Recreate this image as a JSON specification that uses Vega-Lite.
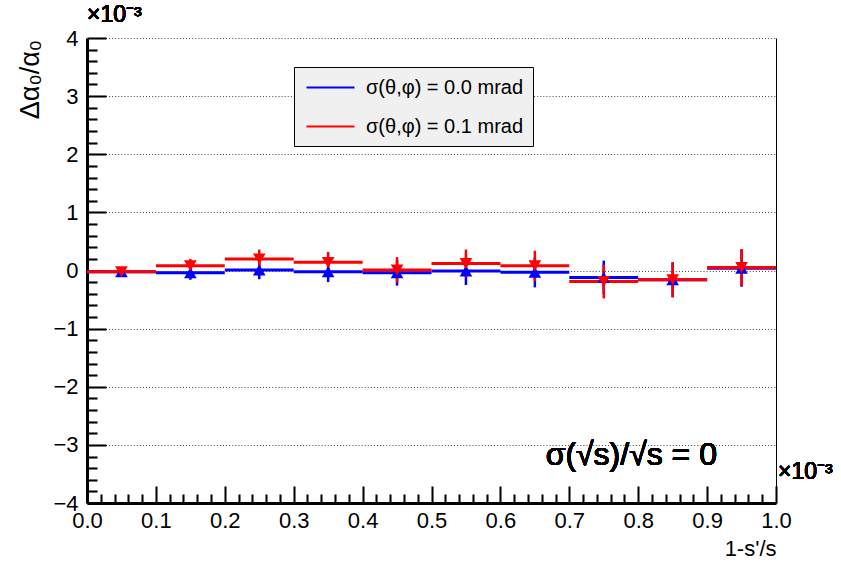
{
  "$schema": "https://vega.github.io/schema/vega-lite/v6.json",
  "width": 689,
  "height": 465,
  "autosize": "none",
  "padding": {"left": 87, "top": 38, "right": 65, "bottom": 63},
  "background": "white",
  "config": {
    "view": {"stroke": null},
    "font": "Liberation Sans",
    "text": {"fontWeight": "normal"},
    "axis": {"labelFont": "Liberation Sans", "titleFont": "Liberation Sans", "labelColor": "black", "titleColor": "black", "titleFontWeight": "normal", "labelFontWeight": "normal"}
  },
  "data": {
    "values": [
      {"series": "σ(θ,φ) = 0.0 mrad", "lo": 0.0, "hi": 0.1, "center": 0.05, "value": -0.02, "err": 0.05},
      {"series": "σ(θ,φ) = 0.0 mrad", "lo": 0.1, "hi": 0.2, "center": 0.15, "value": -0.04, "err": 0.12},
      {"series": "σ(θ,φ) = 0.0 mrad", "lo": 0.2, "hi": 0.3, "center": 0.25, "value": 0.01, "err": 0.16},
      {"series": "σ(θ,φ) = 0.0 mrad", "lo": 0.3, "hi": 0.4, "center": 0.35, "value": -0.02, "err": 0.18},
      {"series": "σ(θ,φ) = 0.0 mrad", "lo": 0.4, "hi": 0.5, "center": 0.45, "value": -0.04, "err": 0.22},
      {"series": "σ(θ,φ) = 0.0 mrad", "lo": 0.5, "hi": 0.6, "center": 0.55, "value": -0.01, "err": 0.24},
      {"series": "σ(θ,φ) = 0.0 mrad", "lo": 0.6, "hi": 0.7, "center": 0.65, "value": -0.03, "err": 0.26},
      {"series": "σ(θ,φ) = 0.0 mrad", "lo": 0.7, "hi": 0.8, "center": 0.75, "value": -0.12, "err": 0.29},
      {"series": "σ(θ,φ) = 0.0 mrad", "lo": 0.8, "hi": 0.9, "center": 0.85, "value": -0.16, "err": 0.30},
      {"series": "σ(θ,φ) = 0.0 mrad", "lo": 0.9, "hi": 1.0, "center": 0.95, "value": 0.04, "err": 0.32},
      {"series": "σ(θ,φ) = 0.1 mrad", "lo": 0.0, "hi": 0.1, "center": 0.05, "value": -0.02, "err": 0.05},
      {"series": "σ(θ,φ) = 0.1 mrad", "lo": 0.1, "hi": 0.2, "center": 0.15, "value": 0.08, "err": 0.12},
      {"series": "σ(θ,φ) = 0.1 mrad", "lo": 0.2, "hi": 0.3, "center": 0.25, "value": 0.20, "err": 0.16},
      {"series": "σ(θ,φ) = 0.1 mrad", "lo": 0.3, "hi": 0.4, "center": 0.35, "value": 0.14, "err": 0.18},
      {"series": "σ(θ,φ) = 0.1 mrad", "lo": 0.4, "hi": 0.5, "center": 0.45, "value": 0.01, "err": 0.22},
      {"series": "σ(θ,φ) = 0.1 mrad", "lo": 0.5, "hi": 0.6, "center": 0.55, "value": 0.12, "err": 0.24},
      {"series": "σ(θ,φ) = 0.1 mrad", "lo": 0.6, "hi": 0.7, "center": 0.65, "value": 0.08, "err": 0.26},
      {"series": "σ(θ,φ) = 0.1 mrad", "lo": 0.7, "hi": 0.8, "center": 0.75, "value": -0.19, "err": 0.29},
      {"series": "σ(θ,φ) = 0.1 mrad", "lo": 0.8, "hi": 0.9, "center": 0.85, "value": -0.16, "err": 0.30},
      {"series": "σ(θ,φ) = 0.1 mrad", "lo": 0.9, "hi": 1.0, "center": 0.95, "value": 0.05, "err": 0.32}
    ]
  },
  "layer": [
    {
      "mark": {"type": "rule", "strokeWidth": 3},
      "encoding": {
        "x": {
          "field": "lo", "type": "quantitative",
          "scale": {"domain": [0, 1], "nice": false, "zero": false},
          "axis": {
            "orient": "bottom", "values": [0, 0.1, 0.2, 0.3, 0.4, 0.5, 0.6, 0.7, 0.8, 0.9, 1.0],
            "format": ".1f", "labelFontSize": 22, "labelPadding": 7, "ticks": false, "grid": false,
            "domain": true, "domainColor": "black", "domainWidth": 3,
            "labelFlush": false, "labelOverlap": false,
            "title": "1-s'/s", "titleFontSize": 22, "titleAnchor": "end", "titleAlign": "right",
            "titleX": 689, "titleY": 45, "titleBaseline": "middle"
          }
        },
        "x2": {"field": "hi"},
        "y": {
          "field": "value", "type": "quantitative",
          "scale": {"domain": [-4, 4], "nice": false, "zero": false},
          "axis": {
            "orient": "left", "values": [-4, -3, -2, -1, 0, 1, 2, 3, 4],
            "labelFontSize": 22, "labelPadding": 9, "ticks": false,
            "grid": true, "gridColor": "#444", "gridDash": [1, 2.08], "gridWidth": 1,
            "domain": true, "domainColor": "black", "domainWidth": 3,
            "labelFlush": false, "labelOverlap": false,
            "title": "Δα₀/α₀", "titleFontSize": 27, "titleAngle": -90,
            "titleAlign": "right", "titleBaseline": "middle", "titleX": -57, "titleY": 1.5
          }
        },
        "color": {
          "field": "series", "type": "nominal",
          "scale": {"domain": ["σ(θ,φ) = 0.0 mrad", "σ(θ,φ) = 0.1 mrad"], "range": ["#0000ff", "#ff0000"]},
          "legend": {
            "orient": "none", "legendX": 207, "legendY": 29, "title": null,
            "fillColor": "#f0f0f0", "strokeColor": "black",
            "padding": 9, "rowPadding": 17,
            "symbolType": "M-2.4,0H2.4", "symbolSize": 400, "symbolStrokeWidth": 2.03, "symbolOffset": 16,
            "labelOffset": 24, "labelFontSize": 20, "labelFont": "Liberation Sans", "labelFontWeight": "normal", "labelColor": "black", "labelLimit": 400
          }
        }
      }
    },
    {
      "mark": {"type": "errorbar", "thickness": 2.5},
      "encoding": {
        "x": {
          "field": "center", "type": "quantitative",
          "axis": {
            "orient": "bottom", "values": [0, 0.1, 0.2, 0.3, 0.4, 0.5, 0.6, 0.7, 0.8, 0.9, 1.0],
            "labels": false, "domain": false, "grid": false, "title": null,
            "ticks": true, "tickSize": -17, "tickWidth": 2.04, "tickColor": "black"
          }
        },
        "y": {
          "field": "value", "type": "quantitative",
          "axis": {
            "orient": "left", "values": [-4, -3, -2, -1, 0, 1, 2, 3, 4],
            "labels": false, "domain": false, "grid": false, "title": null,
            "ticks": true, "tickSize": -19, "tickWidth": 2.05, "tickColor": "black"
          }
        },
        "yError": {"field": "err"},
        "color": {"field": "series", "type": "nominal"}
      }
    },
    {
      "transform": [{"filter": "datum.series === 'σ(θ,φ) = 0.0 mrad'"}],
      "mark": {"type": "point", "shape": "triangle-up", "filled": true, "opacity": 1, "size": 160, "color": "#0000ff"},
      "encoding": {
        "x": {
          "field": "center", "type": "quantitative",
          "axis": {
            "orient": "bottom",
            "values": [0.02, 0.04, 0.06, 0.08, 0.12, 0.14, 0.16, 0.18, 0.22, 0.24, 0.26, 0.28, 0.32, 0.34, 0.36, 0.38, 0.42, 0.44, 0.46, 0.48, 0.52, 0.54, 0.56, 0.58, 0.62, 0.64, 0.66, 0.68, 0.72, 0.74, 0.76, 0.78, 0.82, 0.84, 0.86, 0.88, 0.92, 0.94, 0.96, 0.98],
            "labels": false, "domain": false, "grid": false, "title": null,
            "ticks": true, "tickSize": -9, "tickWidth": 2.06, "tickColor": "black"
          }
        },
        "y": {
          "field": "value", "type": "quantitative",
          "axis": {
            "orient": "left",
            "values": [-3.8, -3.6, -3.4, -3.2, -2.8, -2.6, -2.4, -2.2, -1.8, -1.6, -1.4, -1.2, -0.8, -0.6, -0.4, -0.2, 0.2, 0.4, 0.6, 0.8, 1.2, 1.4, 1.6, 1.8, 2.2, 2.4, 2.6, 2.8, 3.2, 3.4, 3.6, 3.8],
            "labels": false, "domain": false, "grid": false, "title": null,
            "ticks": true, "tickSize": -10, "tickWidth": 2.07, "tickColor": "black"
          }
        }
      }
    },
    {
      "transform": [{"filter": "datum.series === 'σ(θ,φ) = 0.1 mrad'"}],
      "mark": {"type": "point", "shape": "triangle-down", "filled": true, "opacity": 1, "size": 160, "color": "#ff0000"},
      "encoding": {
        "x": {"field": "center", "type": "quantitative", "axis": null},
        "y": {"field": "value", "type": "quantitative", "axis": null}
      }
    },
    {
      "mark": {"type": "text", "text": "σ(√s)/√s = 0", "fontSize": 32, "font": "Liberation Sans", "fontWeight": 400, "align": "center", "baseline": "middle", "color": "black"},
      "encoding": {
        "x": {"datum": 0.79, "type": "quantitative", "axis": null},
        "y": {
          "datum": -3.17, "type": "quantitative",
          "axis": {"orient": "right", "labels": false, "ticks": false, "grid": false, "title": null, "domain": true, "domainColor": "black", "domainWidth": 1}
        }
      }
    },
    {
      "mark": {"type": "text", "text": "×10⁻³", "fontSize": 23, "font": "Liberation Sans", "fontWeight": 400, "align": "left", "baseline": "bottom", "dy": -11, "color": "black"},
      "encoding": {
        "x": {"datum": 0, "type": "quantitative", "axis": null},
        "y": {"datum": 4, "type": "quantitative", "axis": null}
      }
    },
    {
      "mark": {"type": "text", "text": "×10⁻³", "fontSize": 23, "font": "Liberation Sans", "fontWeight": 400, "align": "left", "baseline": "bottom", "dx": 2.1, "dy": -19, "color": "black"},
      "encoding": {
        "x": {"datum": 1, "type": "quantitative", "axis": null},
        "y": {"datum": -4, "type": "quantitative", "axis": null}
      }
    }
  ],
  "resolve": {"axis": {"x": "independent", "y": "independent"}}
}
